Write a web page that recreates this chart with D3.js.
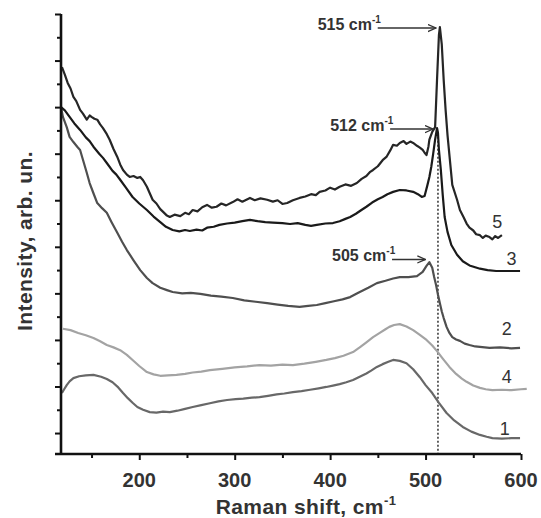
<!DOCTYPE html>
<html lang="en">
  <head>
    <meta charset="UTF-8" />
    <title>raman-d3</title>
    <style>
      body {
        margin: 0;
        background: #fff;
        font-family: "Liberation Sans", Arial, sans-serif;
      }
      svg {
        width: 541px;
        height: 518px;
        display: block;
      }
      .axis path,
      .axis line {
        stroke: #111;
      }
      .axis path {
        stroke-width: 2.6;
      }
      .axis line {
        stroke-width: 2;
      }
      .tick-label {
        font-size: 20px;
        font-weight: bold;
        fill: #333;
        text-anchor: middle;
      }
      .axis-title {
        font-size: 21px;
        font-weight: bold;
        fill: #333;
        text-anchor: middle;
        letter-spacing: 0.4px;
      }
      .peak-label {
        font-size: 16px;
        font-weight: bold;
        fill: #333;
      }
      .curve-label {
        font-size: 18px;
        fill: #333;
        text-anchor: middle;
      }
      .curve {
        fill: none;
        stroke-width: 2.2;
        stroke-linejoin: round;
      }
    </style>
  </head>
  <body>
    <script src="https://cdn.jsdelivr.net/npm/d3@7"></script>
    <script>
      // spectra: [raman shift cm-1, intensity arb. un.]
      const curve5 = [
        [119, 8.31], [122, 8.15], [125, 7.97], [128, 7.85], [131, 7.67], [134, 7.58],
        [138, 7.39], [141, 7.31], [145, 7.18], [148, 7.27], [150, 7.24], [153, 7.2],
        [156, 7.18], [159, 7.08], [162, 7.0], [166, 6.87], [169, 6.75], [173, 6.55],
        [177, 6.38], [180, 6.22], [183, 6.1], [187, 6.0], [190, 5.95], [194, 5.97],
        [198, 5.93], [201, 5.95], [204, 5.88], [208, 5.74], [211, 5.6], [214, 5.46],
        [218, 5.38], [222, 5.26], [225, 5.2], [229, 5.12], [232, 5.09], [237, 5.14],
        [243, 5.11], [248, 5.18], [252, 5.15], [256, 5.24], [261, 5.21], [266, 5.3],
        [271, 5.35], [276, 5.29], [281, 5.31], [286, 5.38], [291, 5.34], [298, 5.41],
        [303, 5.47], [308, 5.42], [316, 5.5], [321, 5.45], [327, 5.49], [334, 5.46],
        [340, 5.42], [345, 5.45], [350, 5.37], [355, 5.39], [361, 5.45], [368, 5.5],
        [374, 5.53], [380, 5.58], [385, 5.56], [389, 5.63], [395, 5.66], [400, 5.72],
        [405, 5.68], [410, 5.74], [416, 5.79], [422, 5.76], [428, 5.82], [433, 5.91],
        [438, 5.97], [442, 6.06], [445, 6.1], [450, 6.18], [455, 6.31], [459, 6.38],
        [463, 6.52], [466, 6.64], [470, 6.62], [473, 6.68], [477, 6.72], [480, 6.66],
        [484, 6.71], [487, 6.68], [491, 6.62], [494, 6.58], [497, 6.53], [499, 6.47],
        [501, 6.42], [503, 6.6], [504, 6.75], [507, 6.92], [510, 7.02], [512, 8.03],
        [514, 9.0], [515, 9.17], [517, 8.79], [519, 8.03], [521, 7.39], [523, 6.85],
        [525, 6.42], [528, 5.78], [533, 5.46], [536, 5.24], [540, 5.08], [543, 4.95],
        [546, 4.86], [550, 4.8], [553, 4.72], [557, 4.7], [560, 4.64], [563, 4.69],
        [567, 4.66], [570, 4.61], [573, 4.68], [576, 4.64], [580, 4.7]
      ];
      const curve3 = [
        [118, 7.45], [122, 7.38], [127, 7.24], [132, 7.1], [138, 6.96], [144, 6.8],
        [148, 6.72], [152, 6.6], [158, 6.45], [162, 6.36], [166, 6.25], [172, 6.08],
        [176, 6.0], [180, 5.89], [186, 5.72], [193, 5.52], [200, 5.38], [208, 5.24],
        [215, 5.1], [222, 4.98], [228, 4.88], [235, 4.81], [242, 4.78], [248, 4.81],
        [253, 4.79], [260, 4.82], [266, 4.8], [271, 4.86], [278, 4.88], [284, 4.92],
        [292, 4.95], [300, 4.97], [308, 5.0], [316, 5.03], [324, 5.0], [332, 4.98],
        [340, 4.97], [350, 4.96], [358, 4.94], [366, 4.96], [374, 4.92], [380, 4.9],
        [386, 4.92], [395, 4.95], [403, 4.96], [410, 5.0], [416, 5.05], [421, 5.09],
        [427, 5.16], [432, 5.23], [438, 5.31], [444, 5.4], [450, 5.47], [455, 5.52],
        [460, 5.58], [466, 5.63], [473, 5.67], [480, 5.66], [487, 5.63], [492, 5.58],
        [496, 5.52], [499, 5.54], [502, 5.78], [504, 5.95], [506, 6.17], [508, 6.45],
        [510, 6.75], [512, 7.0], [513, 6.9], [514, 6.53], [516, 6.1], [518, 5.56],
        [520, 5.09], [523, 4.77], [527, 4.49], [533, 4.28], [539, 4.14], [546, 4.05],
        [557, 3.98], [565, 3.95], [574, 3.93], [599, 3.93]
      ];
      const curve2 = [
        [118, 7.45], [120, 7.24], [124, 7.02], [127, 6.81], [131, 6.7], [135, 6.6],
        [138, 6.53], [141, 6.32], [145, 6.04], [148, 5.82], [152, 5.6], [156, 5.39],
        [161, 5.28], [166, 5.18], [171, 4.98], [177, 4.75], [182, 4.56], [187, 4.38],
        [194, 4.16], [201, 3.95], [208, 3.78], [214, 3.67], [222, 3.57], [229, 3.52],
        [235, 3.48], [245, 3.45], [254, 3.46], [264, 3.44], [275, 3.4], [286, 3.38],
        [298, 3.35], [310, 3.3], [322, 3.27], [334, 3.24], [345, 3.21], [356, 3.18],
        [368, 3.16], [377, 3.18], [386, 3.2], [395, 3.24], [404, 3.28], [413, 3.32],
        [421, 3.37], [430, 3.47], [440, 3.57], [449, 3.67], [458, 3.72], [466, 3.77],
        [473, 3.8], [482, 3.8], [491, 3.82], [497, 3.91], [501, 4.04], [504, 4.12],
        [507, 4.0], [509, 3.8], [511, 3.63], [513, 3.42], [515, 3.24], [517, 3.06],
        [519, 2.92], [522, 2.73], [525, 2.6], [528, 2.51], [532, 2.46], [536, 2.43],
        [541, 2.37], [546, 2.34], [552, 2.31], [557, 2.3], [567, 2.28], [578, 2.29],
        [590, 2.27], [599, 2.28]
      ];
      const curve4 = [
        [120, 2.69], [128, 2.66], [136, 2.6], [144, 2.55], [152, 2.49], [159, 2.42],
        [166, 2.34], [173, 2.29], [180, 2.23], [187, 2.13], [193, 2.02], [200, 1.89],
        [208, 1.76], [215, 1.71], [222, 1.68], [230, 1.69], [239, 1.7], [248, 1.72],
        [256, 1.75], [265, 1.77], [274, 1.8], [287, 1.83], [300, 1.86], [313, 1.88],
        [326, 1.91], [338, 1.9], [350, 1.92], [361, 1.91], [373, 1.94], [385, 1.98],
        [396, 2.02], [405, 2.06], [414, 2.11], [424, 2.19], [431, 2.29], [438, 2.4],
        [445, 2.51], [452, 2.6], [458, 2.68], [462, 2.73], [467, 2.77], [473, 2.79],
        [480, 2.74], [487, 2.66], [494, 2.56], [501, 2.45], [507, 2.33], [512, 2.21],
        [518, 2.05], [525, 1.87], [532, 1.72], [538, 1.62], [543, 1.55], [550, 1.47],
        [557, 1.42], [563, 1.39], [570, 1.37], [580, 1.38], [590, 1.37], [600, 1.39],
        [606, 1.4]
      ];
      const curve1 = [
        [119, 1.31], [121, 1.38], [124, 1.48], [127, 1.56], [131, 1.63], [137, 1.67],
        [144, 1.69], [152, 1.7], [160, 1.66], [166, 1.61], [172, 1.54], [178, 1.43],
        [183, 1.31], [188, 1.2], [193, 1.1], [198, 1.01], [204, 0.95], [211, 0.9],
        [218, 0.89], [225, 0.91], [232, 0.9], [240, 0.93], [248, 0.97], [256, 1.01],
        [265, 1.05], [274, 1.09], [283, 1.13], [292, 1.16], [301, 1.18], [309, 1.19],
        [318, 1.21], [326, 1.22], [335, 1.25], [344, 1.28], [352, 1.3], [361, 1.33],
        [370, 1.35], [379, 1.38], [388, 1.41], [396, 1.44], [403, 1.47], [410, 1.5],
        [417, 1.54], [424, 1.59], [431, 1.66], [438, 1.73], [443, 1.79], [449, 1.87],
        [455, 1.93], [461, 1.98], [466, 2.02], [473, 2.0], [480, 1.95], [487, 1.82],
        [494, 1.65], [500, 1.48], [507, 1.31], [514, 1.1], [522, 0.88], [530, 0.72],
        [539, 0.58], [548, 0.48], [557, 0.41], [564, 0.37], [570, 0.34], [580, 0.33],
        [590, 0.34], [599, 0.34]
      ];

      const curves = [
        { name: "5", values: curve5, color: "#262626" },
        { name: "3", values: curve3, color: "#1a1a1a" },
        { name: "2", values: curve2, color: "#4f4f4f" },
        { name: "4", values: curve4, color: "#a3a3a3" },
        { name: "1", values: curve1, color: "#686868" }
      ];

      // where each curve number sits: [shift, intensity]
      const curveLabelPos = {
        "5": [575, 4.86],
        "3": [590, 4.06],
        "2": [585, 2.56],
        "4": [585, 1.53],
        "1": [583, 0.41]
      };

      // peak annotations: [text, peak shift, arrow level, text start shift]
      const peaks = [
        ["515", 514, 9.17, 387],
        ["512", 511, 7.0, 400],
        ["505", 503, 4.2, 402]
      ];
      const dottedShift = 513;

      const xMajorTicks = [200, 300, 400, 500, 600];
      const xMinorTicks = [150, 250, 350, 450, 550];
      const yMajorTicks = [0.45, 1.45, 2.45, 3.45, 4.45, 5.45, 6.45, 7.45, 8.45, 9.45];
      const yMinorTicks = [0.95, 1.95, 2.95, 3.95, 4.95, 5.95, 6.95, 7.95, 8.95];

      const plotLeft = 61;
      const plotRight = 521;
      const plotTop = 14;
      const plotBottom = 454;

      const x = d3.scaleLinear().domain([118, 600]).range([plotLeft, plotRight]);
      const y = d3.scaleLinear().domain([0, 9.45]).range([plotBottom, plotTop]);

      const svg = d3.select("body").append("svg");

      svg
        .append("defs")
        .append("marker")
        .attr("id", "arrow")
        .attr("viewBox", "0 0 10 10")
        .attr("refX", 9)
        .attr("refY", 5)
        .attr("markerWidth", 9)
        .attr("markerHeight", 9)
        .attr("markerUnits", "userSpaceOnUse")
        .attr("orient", "auto")
        .append("path")
        .attr("d", "M0,1 L9,5 L0,9")
        .attr("fill", "none")
        .attr("stroke", "#333")
        .attr("stroke-width", 1.4);

      // dotted line through the peaks
      svg
        .append("line")
        .attr("x1", x(dottedShift))
        .attr("x2", x(dottedShift))
        .attr("y1", y(6.9))
        .attr("y2", y(0))
        .attr("stroke", "#222")
        .attr("stroke-width", 1.4)
        .attr("stroke-dasharray", "2,2");

      const line = d3
        .line()
        .x((d) => x(d[0]))
        .y((d) => y(d[1]));

      for (let i = curves.length - 1; i >= 0; i--) {
        svg
          .append("path")
          .attr("class", "curve")
          .attr("stroke", curves[i].color)
          .attr("d", line(curves[i].values));
      }

      // axes
      const gx = svg
        .append("g")
        .attr("class", "axis")
        .attr("transform", `translate(0,${plotBottom})`)
        .call(d3.axisBottom(x).tickValues(xMajorTicks).tickSize(6).tickSizeOuter(0).tickFormat(""));
      svg
        .append("g")
        .attr("class", "axis")
        .attr("transform", `translate(0,${plotBottom})`)
        .call(d3.axisBottom(x).tickValues(xMinorTicks).tickSize(4).tickSizeOuter(0).tickFormat(""))
        .select(".domain")
        .remove();
      gx.select(".domain").attr("d", `M${plotLeft - 6},0H${plotRight}`);

      const gy = svg
        .append("g")
        .attr("class", "axis")
        .attr("transform", `translate(${plotLeft},0)`)
        .call(d3.axisLeft(y).tickValues(yMajorTicks).tickSize(6).tickSizeOuter(0).tickFormat(""));
      svg
        .append("g")
        .attr("class", "axis")
        .attr("transform", `translate(${plotLeft},0)`)
        .call(d3.axisLeft(y).tickValues(yMinorTicks).tickSize(4).tickSizeOuter(0).tickFormat(""))
        .select(".domain")
        .remove();
      gy.select(".domain").attr("d", `M0,${plotTop}V${plotBottom}`);

      for (let i = 0; i < xMajorTicks.length; i++) {
        svg
          .append("text")
          .attr("class", "tick-label")
          .attr("x", x(xMajorTicks[i]))
          .attr("y", 487)
          .text(xMajorTicks[i]);
      }

      // axis titles
      const xTitle = svg
        .append("text")
        .attr("class", "axis-title")
        .attr("x", 306)
        .attr("y", 514);
      xTitle.append("tspan").text("Raman shift, cm");
      xTitle
        .append("tspan")
        .attr("dy", -9)
        .attr("font-size", "13px")
        .text("-1");

      svg
        .append("text")
        .attr("class", "axis-title")
        .attr("transform", "translate(32,241) rotate(-90)")
        .text("Intensity, arb. un.");

      // peak annotations
      for (let i = 0; i < peaks.length; i++) {
        const p = peaks[i];
        const t = svg
          .append("text")
          .attr("class", "peak-label")
          .attr("x", x(p[3]))
          .attr("y", y(p[2]) + 3);
        t.append("tspan").text(p[0] + " cm");
        t.append("tspan")
          .attr("dy", -7)
          .attr("font-size", "10px")
          .text("-1");
        svg
          .append("line")
          .attr("x1", x(p[3]) + 60)
          .attr("x2", x(p[1]) - 3)
          .attr("y1", y(p[2]) + 1)
          .attr("y2", y(p[2]) + 1)
          .attr("stroke", "#333")
          .attr("stroke-width", 1.4)
          .attr("marker-end", "url(#arrow)");
      }

      for (let i = 0; i < curves.length; i++) {
        const pos = curveLabelPos[curves[i].name];
        svg
          .append("text")
          .attr("class", "curve-label")
          .attr("x", x(pos[0]))
          .attr("y", y(pos[1]))
          .text(curves[i].name);
      }
    </script>
  </body>
</html>
